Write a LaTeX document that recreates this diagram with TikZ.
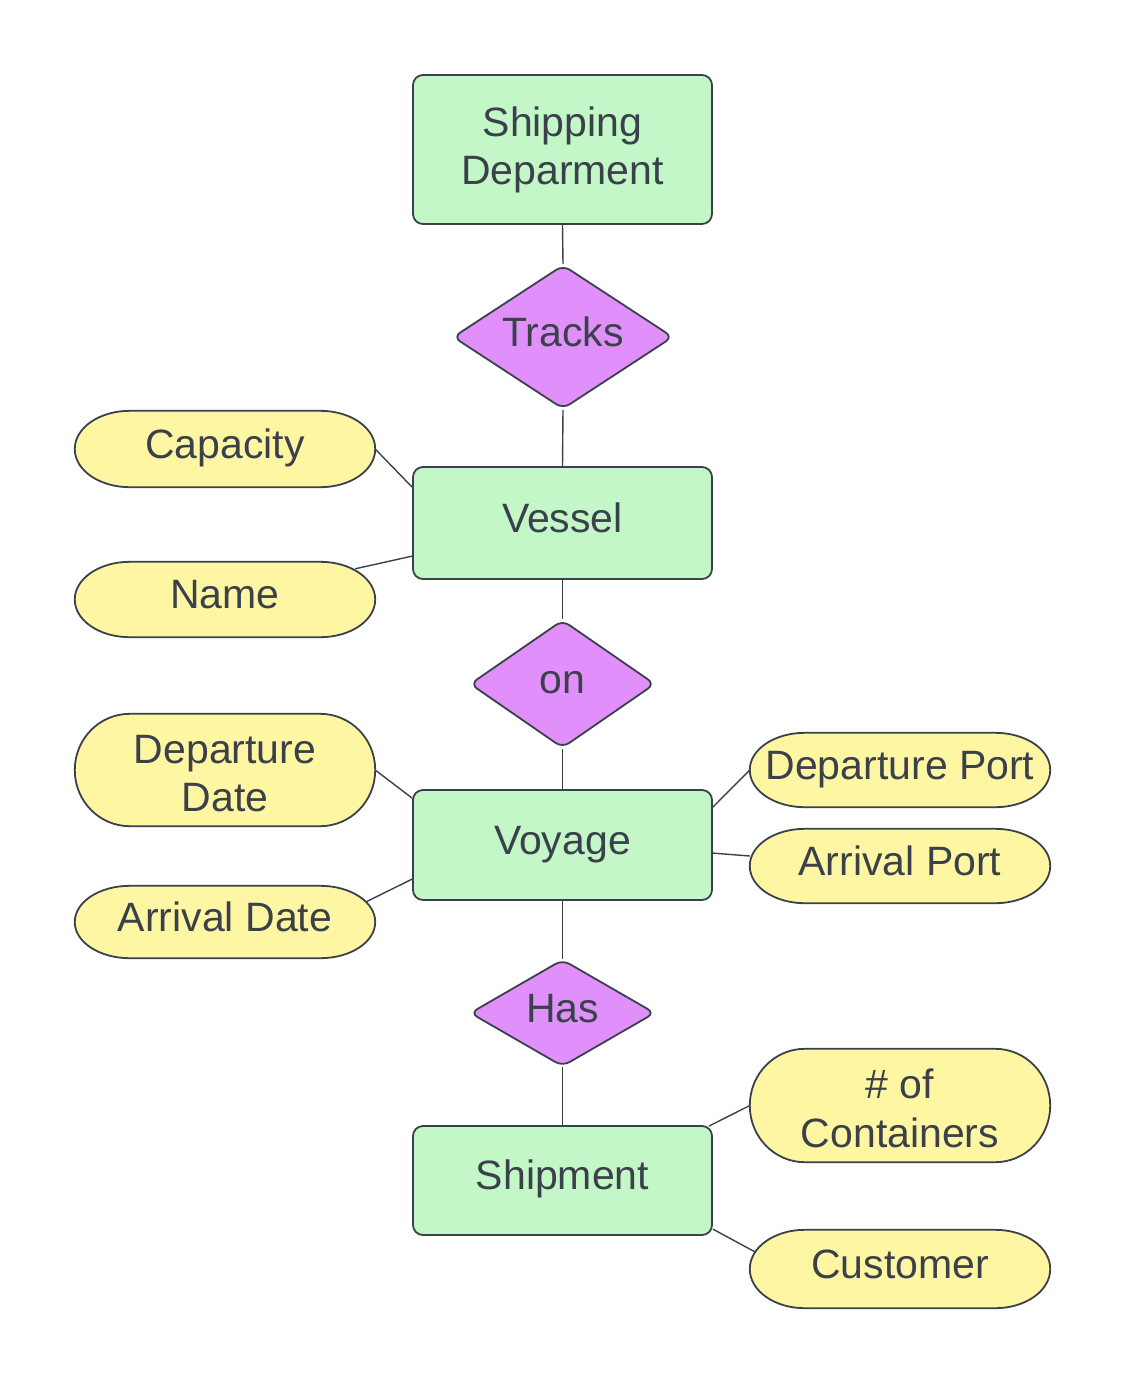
\documentclass[tikz,border=0pt]{standalone}
\usepackage{fontspec}
\setmainfont{Liberation Sans}
\usetikzlibrary{shapes.geometric,backgrounds}
\definecolor{edge}{HTML}{3A414A}
\definecolor{entfill}{HTML}{C3F7C8}
\definecolor{relfill}{HTML}{E08FFB}
\definecolor{attfill}{HTML}{FFF6A3}
\newcommand\pillpath[3]{%
  \path[pillsty] ([xshift=#2]#1.north west) -- ([xshift=-#2]#1.north east)
    arc[start angle=90,end angle=0,x radius=#2,y radius=#3]
    -- ([yshift=#3]#1.south east)
    arc[start angle=0,end angle=-90,x radius=#2,y radius=#3]
    -- ([xshift=#2]#1.south west)
    arc[start angle=270,end angle=180,x radius=#2,y radius=#3]
    -- ([yshift=-#3]#1.north west)
    arc[start angle=180,end angle=90,x radius=#2,y radius=#3] -- cycle;}
\newcommand\twol[3]{\rule{0pt}{#1}#2\\#3\rule[-10pt]{0pt}{10pt}}
\begin{document}
\begin{tikzpicture}[x=1pt,y=-1pt,
  every node/.style={text=edge,font=\fontsize{41}{48.5}\selectfont,align=center,inner sep=0pt,text height=30pt,text depth=12pt},
  twoline/.style={text height=,text depth=},
  entity/.style={draw=edge,line width=1.8pt,fill=entfill,rounded corners=10pt,minimum width=299pt},
  rel/.style={draw=edge,line width=1.8pt,fill=relfill,diamond,rounded corners=8pt},
  attr/.style={minimum width=300pt},
  pillsty/.style={draw=edge,line width=1.8pt,fill=attfill},
  conn/.style={draw=edge,line width=1.4pt}]
\useasboundingbox (0,0) rectangle (1125,1384);
% entities
\node[entity,twoline,minimum height=149pt] (ship) at (562.5,149.5) {\twol{31.5pt}{Shipping}{Deparment}};
\node[entity,minimum height=112pt] (vessel) at (562.5,523) {Vessel};
\node[entity,minimum height=110pt] (voyage) at (562.5,845) {Voyage};
\node[entity,minimum height=109pt] (shipment) at (562.5,1180.5) {Shipment};
% relationships
\node[rel,aspect=1.53,minimum width=220pt,minimum height=144pt] (tracks) at (563,337) {Tracks};
\node[rel,aspect=1.45,minimum width=185pt,minimum height=128pt] (on) at (562.5,684) {on};
\node[rel,aspect=1.73,minimum width=185pt,minimum height=107pt] (has) at (562.5,1013) {Has};
% attributes
\node[attr,minimum height=76pt] (cap) at (225,449) {Capacity};
\node[attr,minimum height=75pt] (name) at (225,599.5) {Name};
\node[attr,twoline,minimum height=112pt] (ddate) at (225,770) {\twol{44.5pt}{Departure}{Date}};
\node[attr,minimum height=72pt] (adate) at (225,922) {Arrival Date};
\node[attr,minimum height=74pt] (dport) at (900,770) {Departure Port};
\node[attr,minimum height=74pt] (aport) at (900,866) {Arrival Port};
\node[attr,twoline,minimum height=113pt] (cont) at (900,1105.5) {\twol{44.5pt}{\# of}{Containers}};
\node[attr,minimum height=78pt] (cust) at (900,1269) {Customer};
\begin{pgfonlayer}{background}
\pillpath{cap}{55pt}{38pt}
\pillpath{name}{55pt}{37.5pt}
\pillpath{ddate}{55pt}{56pt}
\pillpath{adate}{55pt}{36pt}
\pillpath{dport}{55pt}{37pt}
\pillpath{aport}{55pt}{37pt}
\pillpath{cont}{55pt}{56.5pt}
\pillpath{cust}{55pt}{39pt}
\end{pgfonlayer}
% connectors
\draw[conn] (ship.south) -- (tracks.north);
\draw[conn] (tracks.south) -- (vessel.north);
\draw[conn] (vessel.south) -- (on.north);
\draw[conn] (on.south) -- (voyage.north);
\draw[conn] (voyage.south) -- (has.north);
\draw[conn] (has.south) -- (shipment.north);
\draw[conn] (cap.east) -- ([yshift=-21pt]vessel.north west);
\draw[conn] ([xshift=-20pt,yshift=-7pt]name.north east) -- ([yshift=-90pt]vessel.north west);
\draw[conn] (ddate.east) -- ([yshift=-9pt]voyage.north west);
\draw[conn] ([xshift=-9pt,yshift=-16pt]adate.north east) -- ([yshift=-90pt]voyage.north west);
\draw[conn] ([yshift=-18pt]voyage.north east) -- (dport.west);
\draw[conn] ([yshift=-64pt]voyage.north east) -- ([yshift=10pt]aport.west);
\draw[conn] ([xshift=-4pt,yshift=-1pt]shipment.north east) -- (cont.west);
\draw[conn] ([yshift=-104pt]shipment.north east) -- ([xshift=5pt,yshift=-22pt]cust.north west);
\end{tikzpicture}
\end{document}
